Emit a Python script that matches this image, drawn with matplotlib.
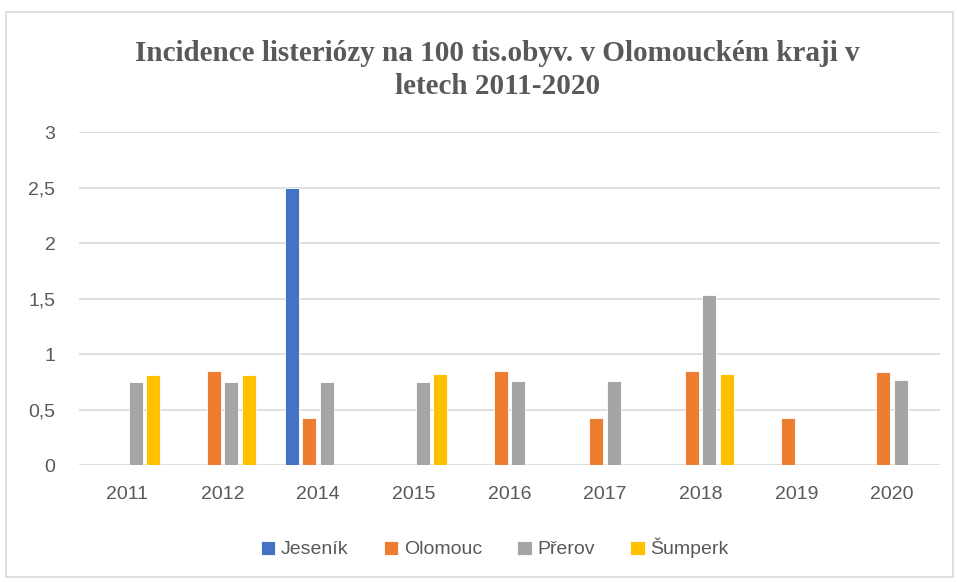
import numpy as np
import matplotlib.pyplot as plt
from matplotlib.patches import Rectangle

years = ["2011", "2012", "2014", "2015", "2016", "2017", "2018", "2019", "2020"]
jesenik = [0, 0, 2.5, 0, 0, 0, 0, 0, 0]
olomouc = [0, 0.85, 0.42, 0, 0.85, 0.42, 0.85, 0.42, 0.84]
prerov = [0.75, 0.75, 0.75, 0.75, 0.76, 0.76, 1.53, 0, 0.77]
sumperk = [0.81, 0.81, 0, 0.82, 0, 0, 0.82, 0, 0]

series = [("Jeseník", jesenik, "#4472C4"),
          ("Olomouc", olomouc, "#ED7D31"),
          ("Přerov", prerov, "#A5A5A5"),
          ("Šumperk", sumperk, "#FFC000")]

fig = plt.figure(figsize=(9.57, 5.82), dpi=100)
ax = fig.add_axes([0.0826, 0.201, 0.8994, 0.572])

x = np.arange(len(years))
step = 0.183
w = 0.146
for i, (name, vals, col) in enumerate(series):
    ax.bar(x + (i - 1.5) * step, vals, w, color=col, label=name,
           edgecolor="white", linewidth=0.6, zorder=3)

ax.set_xlim(-0.5, len(years) - 0.5)
ax.set_ylim(0, 3)
ax.set_yticks([0, 0.5, 1, 1.5, 2, 2.5, 3])
ax.set_yticklabels(["0", "0,5", "1", "1,5", "2", "2,5", "3"])
ax.set_xticks(x)
ax.set_xticklabels(years)
ax.grid(axis="y", color="#D9D9D9", linewidth=1.2, zorder=0)
for s in ax.spines.values():
    s.set_visible(False)
ax.tick_params(axis="both", length=0, labelsize=14, labelcolor="#595959",
               labelfontfamily="Liberation Sans")
ax.tick_params(axis="y", pad=17)
ax.tick_params(axis="x", pad=15)

fig.text(0.52, 0.88, "Incidence listeriózy na 100 tis.obyv. v Olomouckém kraji v\nletech 2011-2020",
         ha="center", va="center", fontsize=21, fontweight="bold",
         family="Liberation Serif", color="#595959", linespacing=1.3)

fig.legend(loc="center", bbox_to_anchor=(0.517, 0.058), ncol=4, frameon=False,
           handlelength=0.75, handleheight=0.75, handletextpad=0.3, columnspacing=1.8,
           prop={"family": "Liberation Sans", "size": 14}, labelcolor="#595959")

fig.add_artist(Rectangle((0.006, 0.008), 0.99, 0.972, transform=fig.transFigure,
                         fill=False, edgecolor="#D9D9D9", linewidth=1.2))

fig.savefig("out.png", dpi=100)
